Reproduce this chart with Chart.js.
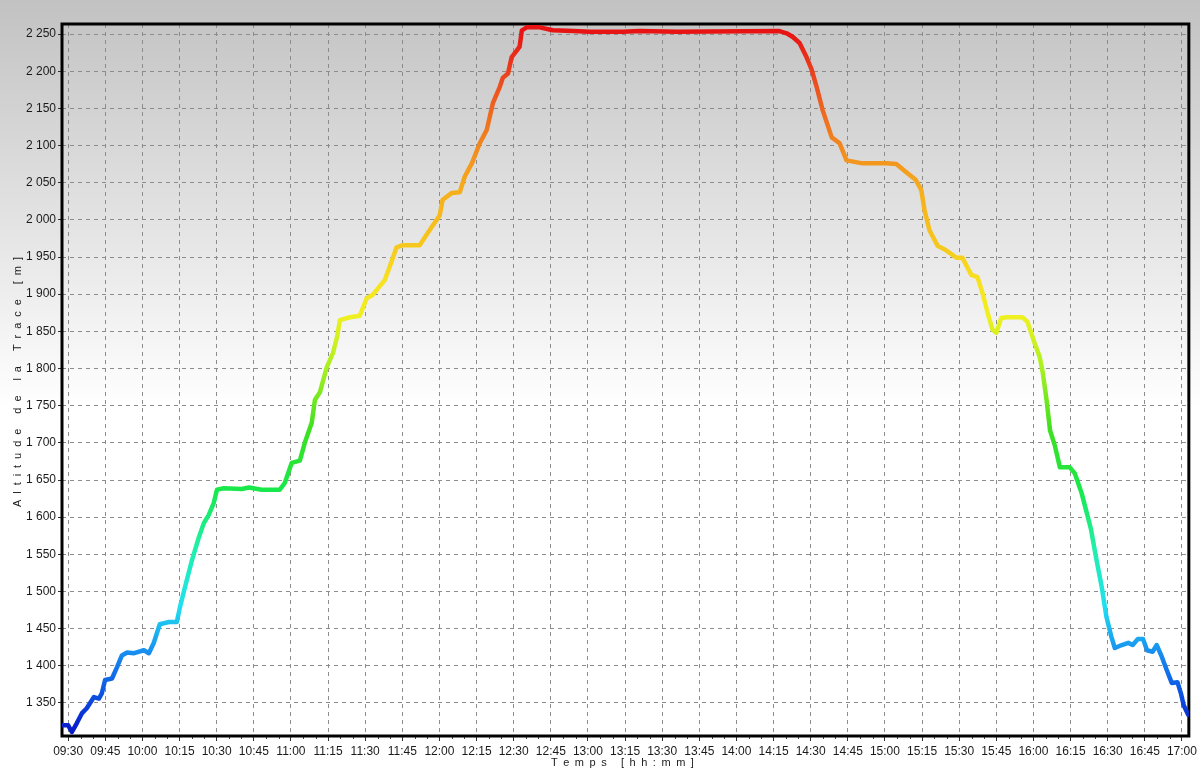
<!DOCTYPE html>
<html>
<head>
<meta charset="utf-8">
<script src="https://cdn.jsdelivr.net/npm/chart.js@4.4.0/dist/chart.umd.min.js"></script>
<style>
  html, body { margin: 0; padding: 0; background: #fff; }
  #wrap { width: 1200px; height: 770px; position: relative; }
</style>
</head>
<body>
<div id="wrap"><canvas id="profile"></canvas></div>
<script>
// minutes since 09:30
const elapsedMin = [
  -2.5, 0, 1.5, 3.5, 5.5, 7.5, 10.4, 12.4, 13.6, 14.9, 17.7, 19.7, 21.7, 23.8, 26.6, 30.6, 32.6, 34.6,
  37, 40.7, 43.9, 45.1, 47.2, 50, 52.8, 54.8, 56.8, 58.8, 60.1, 62.9, 70.2, 73, 78.2, 85.5, 87.5,
  90.3, 93.6, 95.6, 98.4, 99.7, 101.7, 104.5, 107, 108.6, 109.8, 113.8, 117.8, 120.7, 123, 127.9,
  129.9, 132.7, 135.2, 142, 146, 150.1, 151.3, 154.9, 158.2, 160.2, 163.1, 166.3, 169.1, 170.3,
  171.6, 174.4, 175.6, 177.7, 179.2, 181.3, 182.4, 183.3, 185.3, 190.5, 195.8, 204, 210.7, 224,
  230.9, 245.9, 287.4, 290.3, 292.8, 295.5, 298.3, 300.4, 302.4, 304.8, 308.5, 311.7, 314.5,
  320.9, 330.6, 334.6, 339, 342.4, 344.7, 346, 348, 351.3, 354.7, 358.9, 361.3, 364.9, 367.4,
  369.4, 371.5, 373.5, 375, 377, 379.2, 385.5, 387.6, 390.5, 392.5, 393.8, 395.3, 396.7, 398.6,
  400.7, 404.7, 406.7, 409.5, 412, 413.3, 415.3, 417.6, 419.5, 421.5, 422.9, 425.7, 428.3, 430.1,
  432.2, 434.3, 435.9, 438.2, 439.8, 441.9, 443.9, 445.9, 448.2, 449.6, 450.7, 452.6
];
const altitude = [
  1320, 1320, 1311, 1323, 1336, 1343, 1358, 1356, 1363, 1381, 1383, 1398, 1414, 1418, 1417, 1421, 1417, 1431,
  1456, 1459, 1459, 1478, 1506, 1542, 1573, 1592, 1603, 1619, 1637, 1639, 1638, 1640, 1637, 1637, 1646,
  1673, 1676, 1700, 1727, 1758, 1768, 1802, 1821, 1842, 1865, 1869, 1871, 1895, 1899, 1919,
  1937, 1963, 1966, 1966, 1986, 2006, 2027, 2036, 2037, 2058, 2076, 2103, 2121, 2138,
  2157, 2179, 2191, 2197, 2219, 2228, 2233, 2255, 2259, 2259, 2255, 2254, 2253, 2253,
  2254, 2253, 2254, 2251, 2246, 2238, 2219, 2202, 2179, 2148, 2111, 2103, 2080,
  2076, 2076, 2075, 2063, 2054, 2040, 2013, 1986, 1965, 1959, 1949, 1949, 1926, 1923,
  1902, 1875, 1852, 1848, 1868, 1869, 1869, 1863, 1834, 1816, 1794, 1758, 1717, 1697,
  1667, 1667, 1659, 1632, 1600, 1583, 1546, 1506, 1466, 1439, 1424, 1428, 1431, 1428,
  1436, 1436, 1421, 1419, 1428, 1412, 1394, 1377, 1378, 1363, 1347, 1334
];
const timeLabels = ['09:30', '09:45', '10:00', '10:15', '10:30', '10:45', '11:00', '11:15', '11:30',
  '11:45', '12:00', '12:15', '12:30', '12:45', '13:00', '13:15', '13:30', '13:45', '14:00', '14:15',
  '14:30', '14:45', '15:00', '15:15', '15:30', '15:45', '16:00', '16:15', '16:30', '16:45', '17:00'];
const altTicks = [1350, 1400, 1450, 1500, 1550, 1600, 1650, 1700, 1750, 1800, 1850, 1900, 1950,
  2000, 2050, 2100, 2150, 2200, 2250];
const xTitle = 'Temps [hh:mm]';
const yTitle = 'Altitude de la Trace [m]';

// colour ramp by altitude (blue -> red)
const colourStops = [
  [1310, '#0818c8'], [1360, '#0c50e0'], [1420, '#1890f0'], [1480, '#20e0f0'],
  [1560, '#20f0a8'], [1640, '#18e848'], [1720, '#40e020'], [1800, '#a8f020'],
  [1870, '#f0f020'], [1920, '#f8e020'], [1965, '#f6c81c'], [2040, '#f6ae1c'], [2100, '#f08820'],
  [2180, '#ec5020'], [2250, '#e81414']
];

const startClock = 9 * 60 + 30;
const toElapsed = s => { const [h, m] = s.split(':').map(Number); return h * 60 + m - startClock; };
const thousands = v => String(v).replace(/\B(?=(\d{3})+(?!\d))/g, ' ');
const FONT = 'Liberation Sans, Arial, sans-serif';

function altitudeGradient(context) {
  const chart = context.chart;
  if (!chart.chartArea) return '#e81414';
  const y = chart.scales.y;
  const a0 = colourStops[0][0], a1 = colourStops[colourStops.length - 1][0];
  const g = chart.ctx.createLinearGradient(0, y.getPixelForValue(a0), 0, y.getPixelForValue(a1));
  colourStops.forEach(([a, c]) => g.addColorStop((a - a0) / (a1 - a0), c));
  return g;
}

// spaced-out axis title, stretched to a given width
function spacedText(ctx, text, cx, cy, span) {
  ctx.font = '11px ' + FONT;
  const chars = text.split('');
  const widths = chars.map(c => ctx.measureText(c).width);
  const natural = widths.reduce((a, b) => a + b, 0);
  const gap = (span - natural) / (chars.length - 1);
  let x = cx - span / 2;
  ctx.textBaseline = 'middle';
  ctx.textAlign = 'left';
  chars.forEach((c, i) => { ctx.fillText(c, x, cy); x += widths[i] + gap; });
}

const backdrop = {
  id: 'backdrop',
  beforeDraw(chart) {
    const { ctx, width, height } = chart;
    const g = ctx.createLinearGradient(0, 0, 0, height);
    g.addColorStop(0, '#c2c2c2');
    g.addColorStop(0.53, '#ffffff');
    g.addColorStop(1, '#ffffff');
    ctx.save();
    ctx.fillStyle = g;
    ctx.fillRect(0, 0, width, height);
    ctx.restore();
  },
  beforeDatasetsDraw(chart) {
    const { ctx, chartArea: a, scales } = chart;
    ctx.save();
    // minor ticks every 5 minutes
    ctx.strokeStyle = '#444';
    ctx.lineWidth = 1;
    ctx.beginPath();
    for (let t = 0; t <= 450; t += 5) {
      if (t % 15 === 0) continue;
      const x = Math.round(scales.x.getPixelForValue(t)) + 0.5;
      ctx.moveTo(x, a.bottom);
      ctx.lineTo(x, a.bottom + 3);
    }
    ctx.stroke();
    ctx.strokeStyle = '#000';
    ctx.lineWidth = 3;
    ctx.strokeRect(a.left, a.top, a.right - a.left, a.bottom - a.top);
    ctx.restore();
  },
  afterDraw(chart) {
    const { ctx, chartArea: a } = chart;
    ctx.save();
    ctx.fillStyle = '#1a1a1a';
    spacedText(ctx, xTitle, (a.left + a.right) / 2 - 3, 763, 143);
    ctx.translate(18, (a.top + a.bottom) / 2 + 2);
    ctx.rotate(-Math.PI / 2);
    spacedText(ctx, yTitle, 0, 0, 250);
    ctx.restore();
  }
};

new Chart(document.getElementById('profile'), {
  type: 'line',
  data: {
    datasets: [{
      data: elapsedMin.map((t, i) => ({ x: t, y: altitude[i] })),
      borderColor: altitudeGradient,
      borderWidth: 4.5,
      pointRadius: 0,
      tension: 0,
      fill: false,
      borderJoinStyle: 'round',
      borderCapStyle: 'round',
    }],
  },
  options: {
    responsive: true,
    maintainAspectRatio: false,
    animation: false,
    layout: {
      padding: { left: 0, top: 24, right: 11, bottom: 0 },
    },
    scales: {
      x: {
        type: 'linear',
        min: -2.5,
        max: 452.8,
        afterBuildTicks: axis => { axis.ticks = timeLabels.map(s => ({ value: toElapsed(s) })); },
        afterFit: axis => { axis.height = 34; },
        grid: {
          color: '#8c8c8c',
          tickColor: '#333',
          tickLength: 5,
          lineWidth: 1,
        },
        border: { display: false, dash: [4, 4] },
        ticks: {
          autoSkip: false,
          maxRotation: 0,
          padding: 3,
          color: '#1a1a1a',
          font: { family: FONT, size: 12 },
          callback: (v, i) => timeLabels[i],
        },
      },
      y: {
        min: 1305.6,
        max: 2263.5,
        afterBuildTicks: axis => { axis.ticks = altTicks.map(v => ({ value: v })); },
        afterFit: axis => { axis.width = 62; },
        grid: {
          color: '#8c8c8c',
          tickColor: '#333',
          tickLength: 4,
          lineWidth: 1,
        },
        border: { display: false, dash: [4, 4] },
        ticks: {
          padding: 2,
          color: '#1a1a1a',
          font: { family: FONT, size: 12 },
          callback: v => thousands(v),
        },
      },
    },
    plugins: {
      legend: { display: false },
      tooltip: { enabled: false },
    },
  },
  plugins: [backdrop],
});
</script>
</body>
</html>
